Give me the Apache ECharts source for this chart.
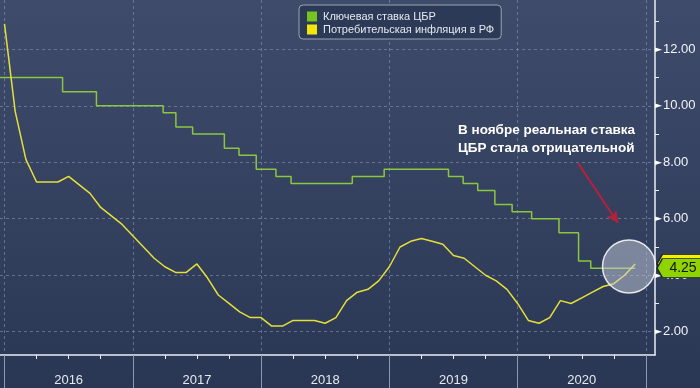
<!DOCTYPE html>
<html><head><meta charset="utf-8">
<script src="https://cdn.jsdelivr.net/npm/echarts@6/dist/echarts.min.js"></script>
<style>html,body{margin:0;padding:0;background:#2f3c5a}#c{width:700px;height:388px}</style>
</head><body><div id="c"></div>
<script>
// ---- data ----
const seriesNames = ['Ключевая ставка ЦБР', 'Потребительская инфляция в РФ'];
const yearLabels = ['2016', '2017', '2018', '2019', '2020'];
const yTickValues = [2, 4, 6, 8, 10, 12];
const annotationText = 'В ноябре реальная ставка\nЦБР стала отрицательной';

// monthly CPI (year-on-year, %), month-end points
const inflationMonths = [
  '2015-12',
  '2016-01','2016-02','2016-03','2016-04','2016-05','2016-06','2016-07','2016-08','2016-09','2016-10','2016-11','2016-12',
  '2017-01','2017-02','2017-03','2017-04','2017-05','2017-06','2017-07','2017-08','2017-09','2017-10','2017-11','2017-12',
  '2018-01','2018-02','2018-03','2018-04','2018-05','2018-06','2018-07','2018-08','2018-09','2018-10','2018-11','2018-12',
  '2019-01','2019-02','2019-03','2019-04','2019-05','2019-06','2019-07','2019-08','2019-09','2019-10','2019-11','2019-12',
  '2020-01','2020-02','2020-03','2020-04','2020-05','2020-06','2020-07','2020-08','2020-09','2020-10','2020-11'
];
const inflationValues = [
  12.9,
  9.8, 8.1, 7.3, 7.3, 7.3, 7.5, 7.2, 6.9, 6.4, 6.1, 5.8, 5.4,
  5.0, 4.6, 4.3, 4.1, 4.1, 4.4, 3.9, 3.3, 3.0, 2.7, 2.5, 2.5,
  2.2, 2.2, 2.4, 2.4, 2.4, 2.3, 2.5, 3.1, 3.4, 3.5, 3.8, 4.3,
  5.0, 5.2, 5.3, 5.2, 5.1, 4.7, 4.6, 4.3, 4.0, 3.8, 3.5, 3.0,
  2.4, 2.3, 2.5, 3.1, 3.0, 3.2, 3.4, 3.6, 3.7, 4.0, 4.4
];

// key rate decisions (effective dates) and rates, %
const keyRateDates = [
  '2015-08-03','2016-06-14','2016-09-19','2017-03-27','2017-05-02','2017-06-19','2017-09-18',
  '2017-10-30','2017-12-18','2018-02-12','2018-03-26','2018-09-17','2018-12-17','2019-06-17',
  '2019-07-29','2019-09-09','2019-10-28','2019-12-16','2020-02-10','2020-04-27','2020-06-22',
  '2020-07-27','2020-12-01'
];
const keyRateValues = [
  11, 10.5, 10, 9.75, 9.25, 9, 8.5,
  8.25, 7.75, 7.5, 7.25, 7.5, 7.75, 7.5,
  7.25, 7, 6.5, 6.25, 6, 5.5, 4.5,
  4.25, 4.25
];

// ---- helpers: convert dates to "months since 2016-01-01" ----
function monthEndPos(s) { const [y, m] = s.split('-').map(Number); return (y - 2016) * 12 + m; }
function datePos(s) {
  const [y, m, d] = s.split('-').map(Number);
  const dim = new Date(Date.UTC(y, m, 0)).getUTCDate();
  return (y - 2016) * 12 + (m - 1) + (d - 1) / dim;
}
const inflationData = inflationMonths.map((s, i) => [monthEndPos(s), inflationValues[i]]);
const keyRateData = keyRateDates.map((s, i) => [datePos(s), keyRateValues[i]]);

const X_MIN = -0.42, X_MAX = 60.85, Y_MIN = 1.175, Y_MAX = 13.746;
const yearTicks = [0, 12, 24, 36, 48, 60];
const yearLabelPos = [6, 18, 30, 42, 54];
const quarterTicks = [];
for (let q = 3; q < 60; q += 3) if (q % 12 !== 0) quarterTicks.push(q);
const minorYTicks = [3, 5, 7, 9, 11, 13];

const lastKey = keyRateValues[keyRateValues.length - 1];
const lastInfl = inflationValues[inflationValues.length - 1];
const FONT = 'Liberation Sans, Arial, sans-serif';
const gridDash = { type: [3, 3], color: 'rgba(140,156,188,0.55)', width: 1 };
const tagPath = 'path://M0,10 L7,0 L60,0 L60,20 L7,20 Z';

const chart = echarts.init(document.getElementById('c'), null, { renderer: 'canvas' });
chart.setOption({
  animation: false,
  backgroundColor: {
    type: 'linear', x: 0, y: 0, x2: 0, y2: 1,
    colorStops: [{ offset: 0, color: '#3e4b6b' }, { offset: 1, color: '#2a3754' }]
  },
  textStyle: { fontFamily: FONT },
  grid: { left: 0, right: 45, top: 0, bottom: 33, containLabel: false },
  legend: {
    orient: 'vertical', left: 299, top: 5,
    padding: [6, 7, 4, 8], itemGap: 2,
    backgroundColor: '#2d3a57', borderColor: '#9aa3b4', borderWidth: 1, borderRadius: 4,
    icon: 'rect', itemWidth: 10, itemHeight: 10,
    textStyle: { color: '#e4e8ef', fontSize: 11, fontFamily: FONT, padding: [0, 0, 0, 1] },
    data: seriesNames
  },
  xAxis: [{
    type: 'value', min: X_MIN, max: X_MAX, position: 'bottom',
    axisLine: { show: true, onZero: false, lineStyle: { color: '#e9eef6', width: 1.5 } },
    axisTick: { show: true, customValues: yearTicks, length: 34, lineStyle: { color: '#8e99ae', width: 1 } },
    axisLabel: {
      customValues: yearLabelPos, margin: 19, color: '#e4e8ef', fontSize: 13, fontFamily: FONT,
      formatter: v => yearLabels[Math.round((v - 6) / 12)]
    },
    splitLine: { show: true, lineStyle: gridDash }
  }, {
    type: 'value', min: X_MIN, max: X_MAX, position: 'bottom',
    axisLine: { show: false, onZero: false },
    axisTick: { show: true, customValues: quarterTicks, length: 4, lineStyle: { color: '#e9eef6', width: 1 } },
    axisLabel: { show: false },
    splitLine: { show: false }
  }],
  yAxis: [{
    type: 'value', min: Y_MIN, max: Y_MAX, position: 'right',
    axisLine: { show: true, onZero: false, lineStyle: { color: '#e9eef6', width: 1.5 } },
    axisTick: { show: false, customValues: yTickValues },
    axisLabel: {
      customValues: yTickValues, margin: 0,
      formatter: v => '{a|►}{b|' + v.toFixed(2) + '}',
      rich: {
        a: { fontSize: 9, color: '#ffffff', fontFamily: 'DejaVu Sans', padding: [0, 1, 0, 0] },
        b: { fontSize: 13, color: '#f2f4f8', fontFamily: FONT }
      }
    },
    splitLine: { show: true, lineStyle: gridDash }
  }, {
    type: 'value', min: Y_MIN, max: Y_MAX, position: 'right',
    axisLine: { show: false, onZero: false },
    axisTick: { show: true, customValues: minorYTicks, length: 4, lineStyle: { color: '#e9eef6', width: 1 } },
    axisLabel: { show: false },
    splitLine: { show: false }
  }],
  series: [{
    name: seriesNames[0], type: 'line', step: 'end', data: keyRateData,
    symbol: 'none', clip: false, z: 3,
    itemStyle: { color: '#78c41e' },
    lineStyle: { color: '#8cc63f', width: 1.5 },
    markPoint: {
      z: 7, silent: true,
      data: [{
        coord: [X_MAX, lastKey], value: lastKey,
        symbol: tagPath, symbolSize: [46, 19], symbolKeepAspect: false, symbolOffset: [25, 0],
        itemStyle: { color: '#8fd300', borderColor: '#1d2430', borderWidth: 1 },
        label: { show: true, position: 'inside', offset: [3, 0], formatter: lastKey.toFixed(2), color: '#111', fontSize: 14, fontFamily: FONT }
      }]
    }
  }, {
    name: seriesNames[1], type: 'line', data: inflationData,
    symbol: 'none', clip: false, z: 4,
    itemStyle: { color: '#f3e60b' },
    lineStyle: { color: '#e5df3a', width: 1.5 },
    markPoint: {
      z: 6, silent: true,
      data: [{
        coord: [58.42, 4.31],
        symbol: 'circle', symbolSize: 53,
        itemStyle: { color: 'rgba(200,205,222,0.5)', borderColor: 'rgba(255,255,255,0.85)', borderWidth: 1.5 },
        label: { show: false }
      }, {
        coord: [X_MAX, lastInfl], value: lastInfl,
        symbol: tagPath, symbolSize: [46, 19], symbolKeepAspect: false, symbolOffset: [25, 0],
        itemStyle: { color: '#f5f000', borderColor: '#1d2430', borderWidth: 1 },
        label: { show: false }
      }]
    },
    markLine: {
      silent: true, z: 6,
      symbol: ['none', 'arrow'], symbolSize: [9, 12],
      label: { show: false },
      lineStyle: { color: '#b8203a', width: 2, type: 'solid' },
      data: [[{ coord: [53.65, 7.97] }, { coord: [57.39, 5.85] }]]
    }
  }],
  graphic: [{
    type: 'text', left: 458, top: 121, z: 10,
    style: { text: annotationText, fill: '#ffffff', font: 'bold 13.5px ' + FONT, lineHeight: 18 }
  }]
});
</script>
</body></html>
